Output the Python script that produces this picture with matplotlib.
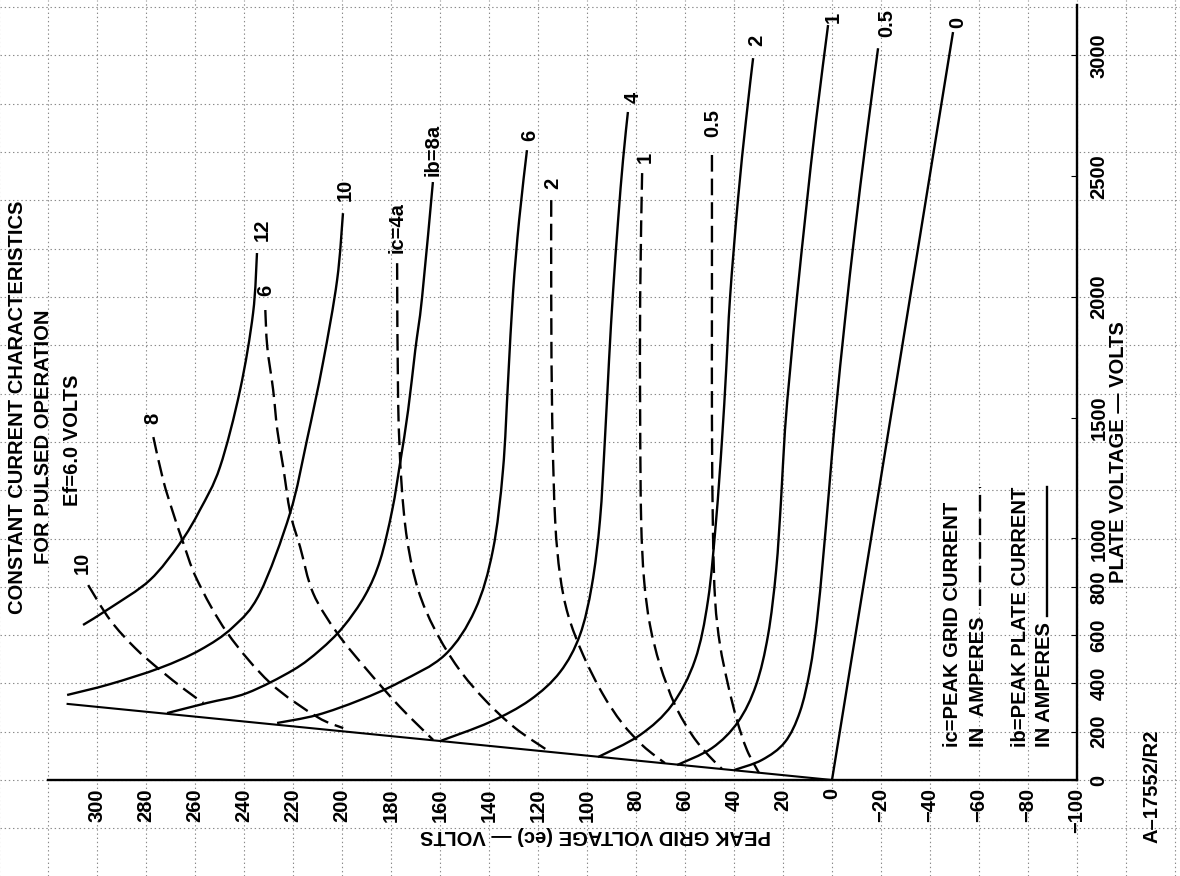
import matplotlib
matplotlib.use('Agg')
import matplotlib.pyplot as plt
from matplotlib.lines import Line2D
from matplotlib.path import Path
from matplotlib.patches import PathPatch

plt.rcParams['font.family'] = ['Liberation Sans', 'DejaVu Sans']
plt.rcParams['font.weight'] = 'bold'
plt.rcParams['lines.scale_dashes'] = False

# ---------------- axis ticks ----------------
ec_ticks = [300, 280, 260, 240, 220, 200, 180, 160, 140, 120, 100, 80, 60, 40, 20, 0,
            -20, -40, -60, -80, -100]
eb_ticks = [0, 200, 400, 600, 800, 1000, 1500, 2000, 2500, 3000]

# ---------------- plate current curves (solid), ec in V, eb in V ----------------
ib0_ec = [0, -49.4]
ib0_eb = [0, 3097]
ib05_ec = [40.0, 28.6, 19.2, 13.1, 9.0, 6.1, 3.7, 1.2, -1.6, -5.3, -9.4, -13.9, -18.8]
ib05_eb = [41, 83, 157, 282, 455, 662, 911, 1201, 1532, 1904, 2277, 2650, 3030]
ib1_ec = [63.2, 49.0, 38.4, 31.0, 26.1, 22.8, 20.8, 19.2, 17.1, 14.3, 10.6, 6.5, 1.6]
ib1_eb = [62, 132, 240, 393, 600, 869, 1159, 1449, 1697, 2000, 2360, 2732, 3126]
ib2_ec = [95.5, 78.4, 65.3, 55.9, 50.6, 47.3, 44.9, 43.2, 41.6, 38.4, 35.1, 32.2]
ib2_eb = [95, 186, 311, 497, 745, 1076, 1408, 1697, 2000, 2401, 2732, 2989]
ib4_ec = [160.0, 139.6, 123.3, 111.0, 102.9, 98.0, 94.7, 92.7, 91.0, 89.4, 87.3, 85.3, 83.3]
ib4_eb = [161, 240, 331, 447, 600, 807, 1076, 1408, 1739, 2016, 2318, 2567, 2766]
ib6_ec = [226.5, 210.2, 192.7, 176.3, 158.0, 145.7, 138.4, 134.3, 132.2, 130.2, 127.7, 124.5]
ib6_eb = [236, 269, 331, 406, 518, 704, 952, 1283, 1656, 2016, 2318, 2608]
ib8_ec = [271.4, 255.1, 238.8, 220.0, 209.0, 199.6, 190.5, 184.4, 179.5, 176.3, 173.0, 170.1,
          167.3, 162.9]
ib8_eb = [277, 319, 360, 455, 538, 633, 766, 911, 1118, 1312, 1532, 1780, 2000, 2476]
ib10_ec = [312.2, 294.7, 274.3, 258.0, 244.5, 233.5, 221.2, 214.3, 207.8, 202.0, 199.6]
ib10_eb = [352, 397, 464, 538, 633, 774, 1105, 1408, 1726, 2070, 2347]
ib12_ec = [305.7, 294.7, 278.4, 266.1, 258.0, 249.8, 241.6, 236.3, 234.7]
ib12_eb = [642, 712, 828, 981, 1118, 1296, 1615, 1933, 2182]

# ---------------- grid current curves (dashed) ----------------
ic05_ec = [49.0, 49.0, 49.0, 48.6, 47.7, 45.7, 42.4, 38.8, 34.7, 29.8]
ic05_eb = [2588, 2000, 1490, 1035, 745, 559, 393, 248, 124, 29]
ic1_ec = [77.5, 78.3, 78.3, 77.9, 76.7, 74.3, 70.2, 64.1, 57.1, 50.6, 44.9]
ic1_eb = [2513, 2000, 1490, 1076, 828, 642, 476, 311, 186, 104, 46]
ic2_ec = [114.6, 114.6, 114.2, 113.0, 111.0, 107.7, 101.6, 93.8, 85.7, 77.1, 68.2]
ic2_eb = [2401, 2000, 1490, 1076, 849, 683, 518, 360, 236, 141, 70]
ic4_ec = [177.5, 177.1, 175.8, 173.4, 168.9, 162.0, 152.6, 141.6, 129.3, 115.1]
ic4_eb = [2140, 1573, 1242, 994, 787, 621, 464, 331, 215, 116]
ic6_ec = [231.3, 230.5, 228.1, 226.4, 224.0, 221.1, 217.1, 211.8, 202.0, 189.7, 176.3, 162.8]
ic6_eb = [1946, 1793, 1615, 1449, 1296, 1105, 965, 774, 609, 455, 302, 166]
ic8_ec = [277.0, 273.0, 268.9, 265.2, 259.1, 246.8, 229.3, 210.1, 199.5]
ic8_eb = [1420, 1242, 1105, 994, 828, 609, 402, 261, 215]
ic10_ec = [303.6, 294.6, 284.4, 274.2, 264.0, 256.6]
ic10_eb = [807, 662, 546, 455, 373, 319]

# boundary line eb = ec
diode_ec = [0, 312]
diode_eb = [0, 315]

# curve labels: text, ec, eb
ib_label_text = ['0', '0.5', '1', '2', '4', '6', 'ib=8a', '10', '12']
ib_label_ec = [-51.4, -22.4, -0.4, 30.6, 81.2, 123.2, 162.8, 198.7, 232.6]
ib_label_eb = [3138, 3134, 3159, 3064, 2828, 2670, 2608, 2443, 2277]
ic_label_text = ['0.5', '1', '2', 'ic=4a', '6', '8', '10']
ic_label_ec = [48.6, 76.3, 113.8, 177.5, 231.3, 277.0, 306.0]
ic_label_eb = [2720, 2579, 2472, 2289, 2029, 1499, 898]

W, H = 1180, 876
fig = plt.figure(figsize=(W / 100, H / 100), dpi=100)

# ---------- graph-paper background ----------
bg = fig.add_axes([0, 0, 1, 1], zorder=0)
bg.set_xlim(339.6, -142.0)
bg.set_ylim(-397, 3229)
bg.axis('off')
for v in range(-140, 341, 20):
    bg.axvline(v, color='#8a8a8a', lw=0.8, ls=(0, (1, 2)))
for v in range(-400, 3300, 200):
    bg.axhline(v, color='#8a8a8a', lw=0.8, ls=(0, (1, 2)))

# ---------- main axes ----------
ax = fig.add_axes([48 / W, (H - 780) / H, (1077 - 48) / W, (780 - 5) / H], zorder=1)
ax.patch.set_alpha(0)
ax.set_xlim(320, -100)
ax.set_ylim(0, 3209)
for s in ['left', 'top']:
    ax.spines[s].set_visible(False)
for s in ['bottom', 'right']:
    ax.spines[s].set_linewidth(1.7)

fs = 14.5
ax.set_xticks(ec_ticks)
ax.set_xticklabels([str(v).replace('-', '\u2212') for v in ec_ticks], rotation=90, fontsize=fs)
ax.tick_params(axis='x', length=0, pad=6)
ax.yaxis.tick_right()
ax.set_yticks(eb_ticks)
ax.set_yticklabels([str(v) for v in eb_ticks], rotation=90, va='center', fontsize=fs)
ax.tick_params(axis='y', length=4, direction='in', pad=9)


def smooth_path(xs, ys):
    """Smooth drawing path (Catmull-Rom as cubic Bezier) through the read points."""
    pts = list(zip(xs, ys))
    n = len(pts)
    verts = [pts[0]]
    codes = [Path.MOVETO]
    for i in range(n - 1):
        p0 = pts[i - 1] if i > 0 else pts[i]
        p1 = pts[i]
        p2 = pts[i + 1]
        p3 = pts[i + 2] if i + 2 < n else pts[i + 1]
        c1 = (p1[0] + (p2[0] - p0[0]) / 6.0, p1[1] + (p2[1] - p0[1]) / 6.0)
        c2 = (p2[0] - (p3[0] - p1[0]) / 6.0, p2[1] - (p3[1] - p1[1]) / 6.0)
        verts += [c1, c2, p2]
        codes += [Path.CURVE4] * 3
    return Path(verts, codes)


lw = 1.7
solid = [(ib0_ec, ib0_eb), (ib05_ec, ib05_eb), (ib1_ec, ib1_eb), (ib2_ec, ib2_eb),
         (ib4_ec, ib4_eb), (ib6_ec, ib6_eb), (ib8_ec, ib8_eb), (ib10_ec, ib10_eb),
         (ib12_ec, ib12_eb)]
dashed = [(ic05_ec, ic05_eb), (ic1_ec, ic1_eb), (ic2_ec, ic2_eb), (ic4_ec, ic4_eb),
          (ic6_ec, ic6_eb), (ic8_ec, ic8_eb), (ic10_ec, ic10_eb)]
for x, y in solid:
    ax.add_patch(PathPatch(smooth_path(x, y), fill=False, ec='black', lw=lw,
                           capstyle='butt', clip_on=False))
for x, y in dashed:
    ax.add_patch(PathPatch(smooth_path(x, y), fill=False, ec='black', lw=lw,
                           ls=(0, (12, 5)), capstyle='butt', clip_on=False))
ax.plot(diode_ec, diode_eb, color='black', lw=1.5, clip_on=False)

for t, x, y in zip(ib_label_text, ib_label_ec, ib_label_eb):
    ax.text(x, y, t, rotation=90, ha='center', va='center', fontsize=fs, clip_on=False)
for t, x, y in zip(ic_label_text, ic_label_ec, ic_label_eb):
    ax.text(x, y, t, rotation=90, ha='center', va='center', fontsize=fs, clip_on=False)

# ---------- texts ----------
def fx(px):
    return px / W


def fy(py):
    return 1 - py / H


fig.text(fx(18), fy(407), 'CONSTANT CURRENT CHARACTERISTICS', rotation=90, ha='center', va='center', fontsize=fs)
fig.text(fx(44), fy(437), 'FOR PULSED OPERATION', rotation=90, ha='center', va='center', fontsize=fs)
fig.text(fx(73), fy(440), 'Ef=6.0 VOLTS', rotation=90, ha='center', va='center', fontsize=fs)
fig.text(fx(1118), fy(452), 'PLATE VOLTAGE \u2014 VOLTS', rotation=90, ha='center', va='center', fontsize=fs)
fig.text(fx(1152), fy(786), 'A\u201317552/R2', rotation=90, ha='center', va='center', fontsize=fs)
fig.text(fx(596), fy(836), 'PEAK GRID VOLTAGE (ec) \u2014 VOLTS', rotation=180, ha='center', va='center', fontsize=fs)

fig.text(fx(952), fy(747), 'ic=PEAK GRID CURRENT', rotation=90, ha='center', va='bottom', fontsize=fs)
fig.text(fx(978), fy(747), 'IN  AMPERES', rotation=90, ha='center', va='bottom', fontsize=fs)
fig.text(fx(1020), fy(747), 'ib=PEAK PLATE CURRENT', rotation=90, ha='center', va='bottom', fontsize=fs)
fig.text(fx(1045), fy(747), 'IN AMPERES', rotation=90, ha='center', va='bottom', fontsize=fs)
key_dash = Line2D([fx(980), fx(980)], [fy(606), fy(487)], color='black', lw=lw, transform=fig.transFigure)
key_dash.set_dashes([12, 5])
fig.add_artist(key_dash)
fig.add_artist(Line2D([fx(1047), fx(1047)], [fy(616), fy(487)], color='black', lw=lw, transform=fig.transFigure))

fig.savefig('out.png', dpi=100)
